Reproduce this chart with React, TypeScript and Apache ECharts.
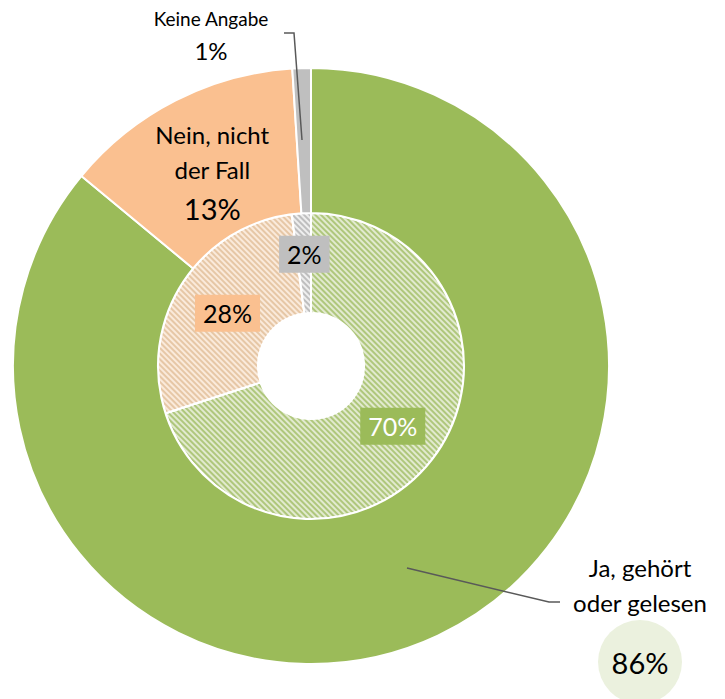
import React, { useEffect, useRef } from "react";
import * as echarts from "echarts";

const categories = ["Ja, gehört oder gelesen", "Nein, nicht der Fall", "Keine Angabe"];
const outerValues = [86, 13, 1];
const innerValues = [70, 28, 2];
const solidColors = ["#9BBB59", "#FAC090", "#BFBFBF"];
const hatchBase = ["#E2EACF", "#FAEADB", "#EEEEEE"];
const hatchStripe = ["#AFC77C", "#E6C7A6", "#BEBEBE"];
const innerLabelText = ["#FFFFFF", "#000000", "#000000"];

const FONT = "Lato, 'Open Sans', sans-serif";

export default function App() {
  const ref = useRef<HTMLDivElement>(null);

  useEffect(() => {
    if (!ref.current) return;
    const chart = echarts.init(ref.current, null, { renderer: "svg" });
    const center = [311, 366];

    const innerData = innerValues.map((v, i) => ({
      name: categories[i],
      value: v,
      itemStyle: {
        color: hatchBase[i],
        decal: {
          symbol: "rect",
          symbolSize: 1,
          color: hatchStripe[i],
          dashArrayX: [1, 0],
          dashArrayY: [2, 1.6],
          rotation: Math.PI / 4,
        },
      },
      label: {
        backgroundColor: solidColors[i],
        color: innerLabelText[i],
      },
    }));

    const outerData = outerValues.map((v, i) => {
      const base: any = {
        name: categories[i],
        value: v,
        itemStyle: { color: solidColors[i] },
      };
      if (i === 0) {
        base.label = {
          formatter: "{a|Ja, gehört}\n{a|oder gelesen}\n{c|" + v + "%}",
        };
      } else if (i === 1) {
        base.label = {
          formatter: "{a|Nein, nicht}\n{a|der Fall}\n{b|" + v + "%}",
        };
      } else {
        base.label = {
          formatter: "{k|Keine Angabe}\n{p|" + v + "%}",
        };
      }
      return base;
    });

    const innerShift = [
      [-4, -2],
      [6, 4],
      [0, -6],
    ];

    chart.setOption({
      animation: false,
      backgroundColor: "#FFFFFF",
      series: [
        {
          type: "pie",
          radius: [53, 153],
          center,
          startAngle: 90,
          clockwise: true,
          avoidLabelOverlap: false,
          itemStyle: { borderColor: "#FFFFFF", borderWidth: 2 },
          label: {
            show: true,
            position: "inside",
            formatter: "{c}%",
            fontFamily: FONT,
            fontSize: 25,
            padding: [7, 8, 5, 8],
          },
          labelLine: { show: false },
          labelLayout: (params: any) => {
            const s = innerShift[params.dataIndex] || [0, 0];
            return { dx: s[0], dy: s[1] };
          },
          emphasis: { disabled: true },
          data: innerData,
        },
        {
          type: "pie",
          radius: [153, 298],
          center,
          startAngle: 90,
          clockwise: true,
          avoidLabelOverlap: false,
          itemStyle: { borderColor: "#FFFFFF", borderWidth: 2 },
          label: {
            show: true,
            position: "inside",
            fontFamily: FONT,
            color: "#000000",
            align: "center",
            rich: {
              a: { fontFamily: FONT, fontSize: 24, lineHeight: 35, color: "#000" },
              b: { fontFamily: FONT, fontSize: 29, lineHeight: 42, color: "#000" },
              c: {
                fontFamily: FONT,
                fontSize: 29,
                color: "#000",
                width: 84,
                height: 84,
                lineHeight: 84,
                align: "center",
                borderRadius: 42,
                backgroundColor: "#EBF1DE",
              },
              k: { fontFamily: FONT, fontSize: 19, lineHeight: 30, color: "#000" },
              p: { fontFamily: FONT, fontSize: 24, lineHeight: 34, color: "#000" },
            },
          },
          labelLine: { show: false },
          labelLayout: (params: any) => {
            if (params.dataIndex === 0) {
              return { x: 640, y: 550, align: "center", verticalAlign: "top" };
            }
            if (params.dataIndex === 1) {
              return { dx: 5, dy: 11 };
            }
            if (params.dataIndex === 2) {
              return { x: 211, y: 3, align: "center", verticalAlign: "top" };
            }
            return {};
          },
          emphasis: { disabled: true },
          data: outerData,
        },
      ],
      graphic: [
        {
          type: "polyline",
          z: 100,
          shape: { points: [[284, 33], [294, 33], [302, 140]] },
          style: { stroke: "#595959", lineWidth: 1.5, fill: null },
        },
        {
          type: "polyline",
          z: 100,
          shape: { points: [[407, 568], [549, 602], [560, 602]] },
          style: { stroke: "#595959", lineWidth: 1.5, fill: null },
        },
      ],
    });

    return () => chart.dispose();
  }, []);

  return (
    <div
      ref={ref}
      style={{ position: "fixed", left: 0, top: 0, width: 725, height: 699 }}
    />
  );
}
